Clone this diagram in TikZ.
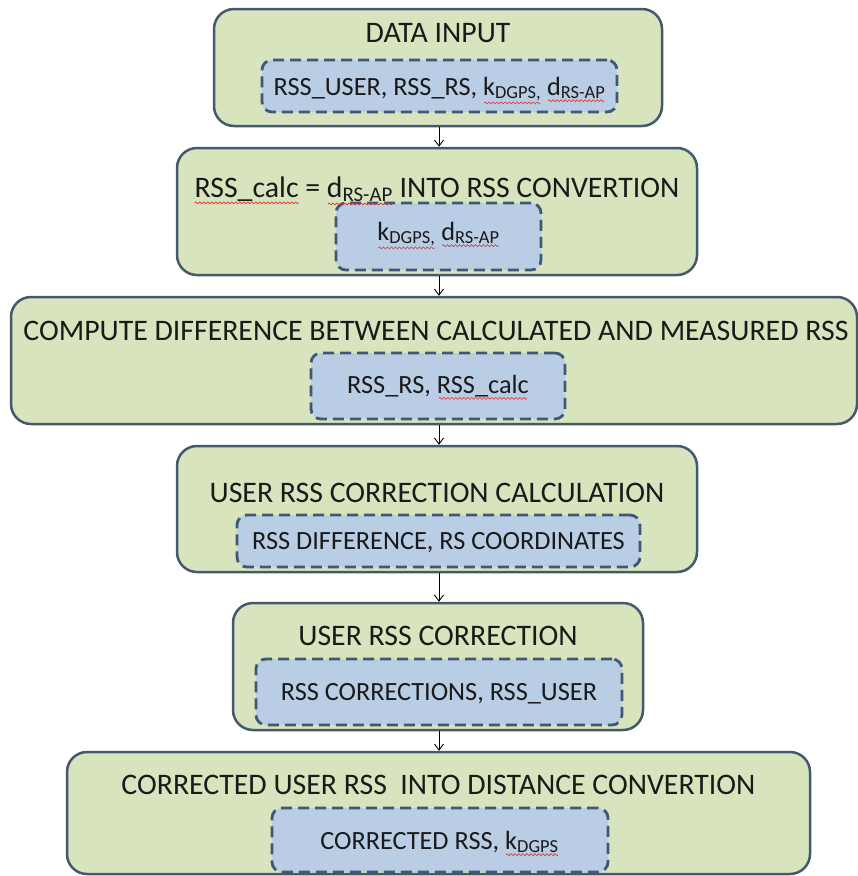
\documentclass[tikz,border=0pt]{standalone}
\usepackage{fontspec}
\setmainfont{Carlito}
\usetikzlibrary{arrows.meta}

\definecolor{boxfill}{HTML}{D7E4BD}
\definecolor{boxline}{HTML}{44596E}
\definecolor{innerfill}{HTML}{B9CDE5}
\definecolor{innerline}{HTML}{3F5873}
\definecolor{ink}{HTML}{1A1A1A}
\definecolor{spell}{HTML}{E0302A}

% red wavy underline used for spell-check marks
\newsavebox\wavebox
\newcommand\spellmark[1]{%
  \setbox0=\hbox{#1}%
  \leavevmode\rlap{\lower\dimexpr\dp0+1.8pt\relax\hbox to \wd0{\cleaders\copy\wavebox\hfil}}%
  \box0\relax}

\tikzset{
  outerbox/.style={draw=boxline, line width=2.5pt, fill=boxfill,
    rounded corners=20pt, inner sep=0pt},
  innerbox/.style={draw=innerline, line width=2.8pt, fill=innerfill,
    dash pattern=on 11pt off 6pt, rounded corners=10pt, inner sep=0pt},
  titletext/.style={text=ink, font=\fontsize{29.8}{34}\selectfont,
    inner sep=0pt, anchor=base},
  innertext/.style={text=ink, font=\fontsize{26.3}{30}\selectfont,
    inner sep=0pt, anchor=base},
  flow/.style={draw=black, line width=0.9pt,
    -{Straight Barb[length=6pt,width=9pt,line width=0.9pt]}}
}

\begin{document}
\sbox\wavebox{\pgfpicture
  \pgfsetcolor{spell}\pgfsetlinewidth{0.6pt}%
  \pgfpathmoveto{\pgfpoint{0pt}{0pt}}%
  \pgfpathsine{\pgfpoint{1pt}{1pt}}%
  \pgfpathcosine{\pgfpoint{1pt}{-1pt}}%
  \pgfpathsine{\pgfpoint{1pt}{-1pt}}%
  \pgfpathcosine{\pgfpoint{1pt}{1pt}}%
  \pgfusepath{stroke}%
  \pgfresetboundingbox
  \pgfpathrectangle{\pgfpoint{0pt}{-1pt}}{\pgfpoint{4pt}{2pt}}%
  \pgfusepath{use as bounding box}%
  \pgfsetbaseline{0pt}%
\endpgfpicture}%
\begin{tikzpicture}[x=1pt, y=-1pt]
\useasboundingbox (0,0) rectangle (858,876);

% outer step boxes
\node[outerbox, minimum width=448pt, minimum height=117pt] (b1) at (438,67.5) {};
\node[outerbox, minimum width=520pt, minimum height=127pt] (b2) at (437,211.5) {};
\node[outerbox, minimum width=846pt, minimum height=127pt] (b3) at (434,360.5) {};
\node[outerbox, minimum width=520pt, minimum height=126pt] (b4) at (437,509) {};
\node[outerbox, minimum width=410pt, minimum height=127pt] (b5) at (438,666.5) {};
\node[outerbox, minimum width=743pt, minimum height=122pt] (b6) at (438.5,813) {};

% dashed parameter boxes
\node[innerbox, minimum width=355pt, minimum height=52pt] (i1) at (439.5,86) {};
\node[innerbox, minimum width=205pt, minimum height=67pt] (i2) at (438.5,236.5) {};
\node[innerbox, minimum width=254pt, minimum height=66pt] (i3) at (438,386) {};
\node[innerbox, minimum width=403pt, minimum height=52pt] (i4) at (438.5,541) {};
\node[innerbox, minimum width=366pt, minimum height=66pt] (i5) at (439,692) {};
\node[innerbox, minimum width=336pt, minimum height=64pt] (i6) at (440,840) {};

% step titles
\node[titletext] (t1) at (438,42.5) {DATA INPUT};
\node[titletext] (t2) at (437,197) {\spellmark{RSS\_calc} = \spellmark{d\textsubscript{RS-AP}} INTO RSS CONVERTION};
\node[titletext] (t3) at (436,340) {COMPUTE DIFFERENCE BETWEEN CALCULATED AND MEASURED RSS};
\node[titletext] (t4) at (437,502) {USER RSS CORRECTION CALCULATION};
\node[titletext] (t5) at (438,645) {USER RSS CORRECTION};
\node[titletext] (t6) at (438.5,794) {CORRECTED USER RSS~ INTO DISTANCE CONVERTION};

% parameter texts
\node[innertext] (p1) at (439.5,95) {RSS\_USER, RSS\_RS, \spellmark{k\textsubscript{DGPS,}} \spellmark{d\textsubscript{RS-AP}}};
\node[innertext] (p2) at (438.5,240) {\spellmark{k\textsubscript{DGPS,}} \spellmark{d\textsubscript{RS-AP}}};
\node[innertext] (p3) at (438,393) {RSS\_RS, \spellmark{RSS\_calc}};
\node[innertext] (p4) at (438.5,549) {RSS DIFFERENCE, RS COORDINATES};
\node[innertext] (p5) at (439,700) {RSS CORRECTIONS, RSS\_USER};
\node[innertext] (p6) at (439.5,849) {CORRECTED RSS, \spellmark{k\textsubscript{DGPS}}};

% flow arrows
\draw[flow] (b1.south -| 439,0) -- (b2.north -| 439,0);
\draw[flow] (b2.south -| 439,0) -- (b3.north -| 439,0);
\draw[flow] (b3.south -| 439,0) -- (b4.north -| 439,0);
\draw[flow] (b4.south -| 439,0) -- (b5.north -| 439,0);
\draw[flow] (b5.south -| 439,0) -- (b6.north -| 439,0);
\end{tikzpicture}
\end{document}
